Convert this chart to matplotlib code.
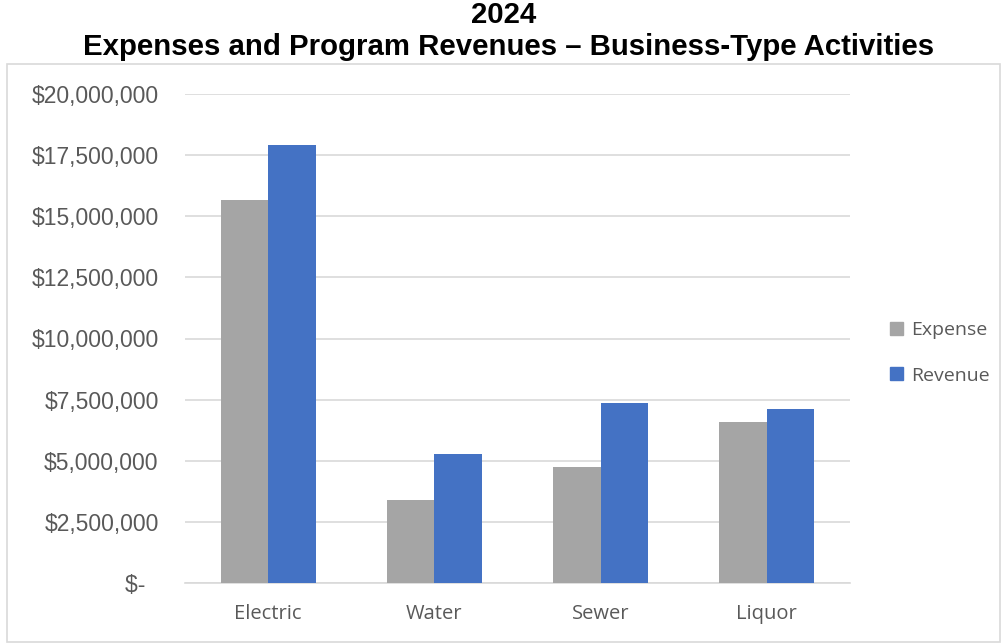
import matplotlib
matplotlib.use("Agg")
import matplotlib.pyplot as plt
import numpy as np
from matplotlib.patches import Rectangle, Patch

categories = ["Electric", "Water", "Sewer", "Liquor"]
expense = [15_670_000, 3_400_000, 4_730_000, 6_590_000]
revenue = [17_920_000, 5_260_000, 7_370_000, 7_120_000]
y_ticks = [0, 2_500_000, 5_000_000, 7_500_000, 10_000_000, 12_500_000,
           15_000_000, 17_500_000, 20_000_000]
series_names = ["Expense", "Revenue"]

W, H = 1007, 644
fig = plt.figure(figsize=(W / 100, H / 100), dpi=100)

# chart-area border
fig.patches.append(Rectangle((7 / W, 2 / H), 993 / W, 578 / H, transform=fig.transFigure,
                             fill=False, edgecolor="#D9D9D9", linewidth=1.2))

fig.text(0.5, 1 - 15 / H, "2024", ha="center", va="center",
         fontsize=21.2, fontweight="bold", family="Liberation Sans")
fig.text(0.5 + 5 / W, 1 - 47 / H, "Expenses and Program Revenues \u2013 Business-Type Activities",
         ha="center", va="center", fontsize=21.2, fontweight="bold", family="Liberation Sans")

ax = fig.add_axes([185 / W, 1 - 583 / H, 665 / W, 489 / H])
x = np.arange(len(categories))
bw = 0.285
ax.bar(x - bw / 2, expense, bw, color="#A5A5A5", zorder=3, label=series_names[0])
ax.bar(x + bw / 2, revenue, bw, color="#4472C4", zorder=3, label=series_names[1])

ax.set_xlim(-0.5, len(categories) - 0.5)
ax.set_ylim(0, 20_000_000)
ax.set_yticks(y_ticks)
labels = ["$-  " if v == 0 else f"${v:,.0f}" for v in y_ticks]
ax.set_yticklabels(labels, family="Liberation Sans", fontsize=16.5, color="#595959")
ax.set_xticks(x)
ax.set_xticklabels(categories, family="Open Sans", fontsize=14.5, color="#595959")
ax.tick_params(axis="y", length=0, pad=19)
ax.tick_params(axis="x", length=0, pad=15)
ax.grid(axis="y", color="#D9D9D9", linewidth=1.2, zorder=0)
for s in ["top", "right", "left"]:
    ax.spines[s].set_visible(False)
ax.spines["bottom"].set_color("#D9D9D9")
ax.spines["bottom"].set_linewidth(1.2)

handles = [Patch(color="#A5A5A5"), Patch(color="#4472C4")]
leg = fig.legend(handles, series_names, loc="center left",
                 bbox_to_anchor=(872 / W, 1 - 353 / H), frameon=False,
                 prop={"family": "Open Sans", "size": 14},
                 handlelength=0.67, handleheight=0.67, handletextpad=0.46,
                 labelspacing=1.4, labelcolor="#595959")

fig.savefig("out.png", dpi=100)
